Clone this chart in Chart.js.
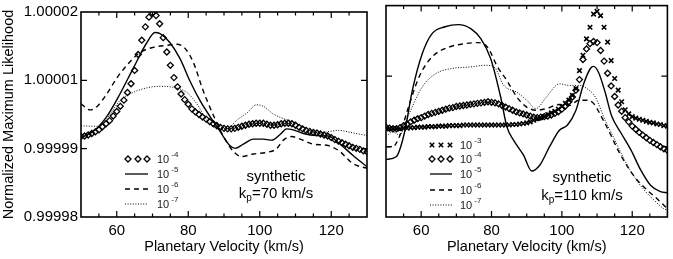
<!DOCTYPE html>
<html><head><meta charset="utf-8">
<title>Normalized Maximum Likelihood</title>
<script src="https://cdn.jsdelivr.net/npm/chart.js@4/dist/chart.umd.min.js"></script>
<style>
body{margin:0;background:#fff;width:673px;height:259px;position:relative;overflow:hidden}
canvas{position:absolute;top:0}
</style></head>
<body>
<canvas id="left" width="373" height="259" style="left:0"></canvas>
<canvas id="right" width="300" height="259" style="left:373px"></canvas>
<script>
// velocity grid of the symbol series (km/s)
var velocity = [50,51,52,53,54,55,56,57,58,59,60,61,62,63,64,65,66,67,68,69,70,
  71,72,73,74,75,76,77,78,79,80,81,82,83,84,85,86,87,88,89,90,
  91,92,93,94,95,96,97,98,99,100,101,102,103,104,105,106,107,108,109,110,
  111,112,113,114,115,116,117,118,119,120,121,122,123,124,125,126,127,128,129,130];

// all values below are offsets from 1, in units of 1e-5
// kp = 70 panel
var left1e4 = [-0.43,-0.42,-0.40,-0.37,-0.34,-0.30,-0.24,-0.18,-0.12,-0.03,0.06,
  0.16,0.28,0.43,0.60,0.86,1.17,1.45,1.71,1.90,1.98,
  1.93,1.77,1.50,1.22,0.96,0.72,0.54,0.40,0.29,0.20,
  0.11,0.05,0.00,-0.05,-0.09,-0.14,-0.18,-0.22,-0.25,-0.27,
  -0.28,-0.28,-0.27,-0.25,-0.23,-0.21,-0.19,-0.18,-0.17,-0.17,
  -0.17,-0.19,-0.21,-0.21,-0.20,-0.18,-0.17,-0.17,-0.18,-0.21,
  -0.25,-0.28,-0.31,-0.33,-0.35,-0.36,-0.38,-0.40,-0.42,-0.45,
  -0.49,-0.52,-0.55,-0.58,-0.61,-0.64,-0.66,-0.68,-0.71,-0.73];
var left1e5V = [50,53.4,57.2,60.9,64.6,68.4,70.7,72.1,74.9,77.7,80.5,83.3,86.1,88.9,91.7,93.1,95.4,98.2,101,103.3,105.7,107.5,109.4,112.2,115.9,119.2,122,126.1,130];
var left1e5 = [-0.45,-0.33,-0.04,0.40,0.90,1.40,1.60,1.58,1.40,1.09,0.65,0.27,-0.04,-0.33,-0.61,-0.66,-0.58,-0.48,-0.48,-0.50,-0.39,-0.28,-0.30,-0.37,-0.41,-0.42,-0.55,-0.80,-1.02];
var left1e6V = [50,52.5,54.4,57.2,60,62.8,66.5,70.2,74,76.8,79.1,81.4,84.2,87,89.8,92.6,94.9,98.2,101.9,104.7,106.6,108.9,111.3,115,118.7,122,126.1,130];
var left1e6 = [0.21,0.09,0.15,0.40,0.71,0.96,1.21,1.31,1.35,1.37,1.29,1.02,0.46,-0.01,-0.42,-0.72,-0.82,-0.77,-0.74,-0.67,-0.50,-0.43,-0.48,-0.58,-0.60,-0.70,-0.96,-1.05];
var left1e7V = [50,54.4,57.2,60.9,64.6,68.4,72.1,75.8,79.6,82.4,85.2,88,90.8,93.6,96.4,99.1,101,103.8,106.6,109.4,113.1,116.8,119.6,122,126.1,130];
var left1e7 = [-0.22,-0.23,-0.08,0.27,0.43,0.52,0.55,0.53,0.43,0.21,-0.11,-0.26,-0.28,-0.11,0.03,0.19,0.16,0.01,-0.08,-0.14,-0.28,-0.36,-0.33,-0.31,-0.36,-0.41];

// kp = 110 panel
var right1e3 = [-0.33,-0.33,-0.33,-0.33,-0.33,-0.32,-0.32,-0.31,-0.31,-0.30,-0.30,
  -0.30,-0.29,-0.29,-0.29,-0.28,-0.28,-0.28,-0.27,-0.27,-0.27,
  -0.27,-0.26,-0.26,-0.26,-0.26,-0.26,-0.26,-0.26,-0.26,-0.26,
  -0.26,-0.26,-0.26,-0.26,-0.26,-0.25,-0.25,-0.24,-0.23,-0.22,
  -0.20,-0.17,-0.14,-0.12,-0.10,-0.06,-0.03,0.00,0.04,0.09,
  0.15,0.21,0.30,0.43,0.77,1.06,1.37,1.59,1.84,1.89,
  1.81,1.59,1.31,0.96,0.62,0.40,0.18,0.03,-0.05,-0.10,
  -0.13,-0.15,-0.17,-0.19,-0.21,-0.22,-0.24,-0.25,-0.27,-0.28];
var right1e4 = [-0.30,-0.32,-0.33,-0.33,-0.31,-0.27,-0.24,-0.20,-0.17,-0.14,-0.12,
  -0.09,-0.06,-0.04,-0.02,0.00,0.02,0.04,0.06,0.07,0.09,
  0.10,0.11,0.12,0.13,0.14,0.15,0.16,0.17,0.18,0.17,
  0.16,0.14,0.11,0.08,0.05,0.02,-0.01,-0.03,-0.05,-0.07,
  -0.09,-0.11,-0.12,-0.11,-0.10,-0.09,-0.07,-0.04,-0.01,0.04,
  0.10,0.18,0.27,0.40,0.60,0.98,1.18,1.28,1.32,1.30,
  1.15,0.95,0.72,0.48,0.28,0.12,0.00,-0.12,-0.20,-0.28,
  -0.34,-0.40,-0.45,-0.50,-0.55,-0.59,-0.63,-0.67,-0.71,-0.74];
var right1e5V = [50,52.9,55.2,57.5,60.3,63.1,66.8,70.5,74.2,77,79.8,82.6,84.4,86.3,89.1,91.4,93.7,96.5,99.3,101.6,104,106.2,108.1,109,110.4,112.3,114.1,116.9,119.7,122.4,125.2,128,130];
var right1e5 = [-0.91,-0.86,-0.42,0.40,1.09,1.47,1.60,1.64,1.56,1.37,0.99,0.27,-0.30,-0.55,-0.83,-1.13,-1.02,-0.67,-0.36,-0.26,0.02,0.52,0.81,0.85,0.74,0.36,-0.08,-0.42,-0.74,-1.11,-1.40,-1.52,-1.54];
var right1e6V = [50,51.9,53.8,56.1,59.4,63.1,67.7,72.4,76.1,78.9,81.7,84.4,87.2,90,92.8,95.6,99.3,102.1,104.8,107.1,109,111.3,113.7,116,118.7,121.4,124.2,127,130];
var right1e6 = [-0.67,-0.67,-0.48,0.02,0.65,1.03,1.21,1.28,1.30,1.21,0.84,0.58,0.27,0.08,0.02,0.05,0.13,0.11,0.21,0.21,0.15,-0.11,-0.42,-0.74,-1.05,-1.30,-1.49,-1.65,-1.84];
var right1e7V = [50,51.9,53.8,56.6,60.3,64.1,68.7,74.2,77.9,80.7,83.5,87.2,90,92.6,95.6,99.3,102.1,104.8,107.1,109.5,112.3,115.1,117.8,120.6,123.4,126.2,128.9,130];
var right1e7 = [-0.48,-0.39,-0.45,-0.04,0.46,0.71,0.81,0.84,0.87,0.84,0.49,0.36,0.21,0.05,0.27,0.52,0.49,0.49,0.43,0.27,-0.17,-0.55,-0.92,-1.24,-1.49,-1.68,-1.84,-1.87];

var xTickValues = [60, 80, 100, 120];
var yTickLabels = ['0.99998', '0.99999', '1.00001', '1.00002'];
var legendLeft = ['-4', '-5', '-6', '-7'];
var legendRight = ['-3', '-4', '-5', '-6', '-7'];

var Y_MIN = 1 - 2e-5, Y_MAX = 1 + 2e-5;
var yTickValues = yTickLabels.map(function(_, i){ return Y_MIN + i * (Y_MAX - Y_MIN) / 3; });

Chart.defaults.font.family = '"Liberation Sans", Arial, Helvetica, sans-serif';
Chart.defaults.color = '#000';

function toL(d) { return 1 + d * 1e-5; }

function pts(v, d) { return v.map(function(x, i){ return {x: x, y: toL(d[i])}; }); }

function lineSet(v, d, kind) {
  var ds = { data: pts(v, d), showLine: true, pointRadius: 0, borderColor: '#000',
    cubicInterpolationMode: 'monotone', fill: false, borderWidth: 1.4 };
  if (kind == 'dash') { ds.borderDash = [5, 4]; }
  if (kind == 'dot') { ds.borderDash = [1, 1.6]; ds.borderWidth = 1; }
  return ds;
}

function markerSet(d, kind) {
  return { data: pts(velocity, d), showLine: false,
    pointStyle: kind == 'x' ? 'crossRot' : 'rectRot',
    pointRadius: kind == 'x' ? 3.2 : 3, pointBorderWidth: kind == 'x' ? 1.6 : 1.3,
    pointBorderColor: '#000', pointBackgroundColor: 'rgba(0,0,0,0)' };
}

function drawDiamond(ctx, x, y, r) {
  ctx.beginPath(); ctx.moveTo(x, y - r); ctx.lineTo(x + r, y); ctx.lineTo(x, y + r); ctx.lineTo(x - r, y); ctx.closePath(); ctx.stroke();
}
function drawCross(ctx, x, y, r) {
  ctx.beginPath(); ctx.moveTo(x - r, y - r); ctx.lineTo(x + r, y + r); ctx.moveTo(x - r, y + r); ctx.lineTo(x + r, y - r); ctx.stroke();
}

function framePlugin(cfg) {
  return {
    id: 'frame',
    afterDraw: function(chart) {
      var ctx = chart.ctx, a = chart.chartArea, xs = chart.scales.x, ys = chart.scales.y;
      ctx.save();
      ctx.strokeStyle = '#000';
      ctx.lineWidth = 1.6;
      ctx.strokeRect(a.left, a.top, a.right - a.left, a.bottom - a.top);
      // inward ticks
      ctx.lineWidth = 1.2;
      ctx.beginPath();
      for (var v = 55; v < 130; v += 5) {
        var px = xs.getPixelForValue(v);
        var len = xTickValues.indexOf(v) >= 0 ? 6 : 3.5;
        ctx.moveTo(px, a.bottom); ctx.lineTo(px, a.bottom - len);
        ctx.moveTo(px, a.top); ctx.lineTo(px, a.top + len);
      }
      yTickValues.slice(1, 3).forEach(function(t){
        var py = ys.getPixelForValue(t);
        ctx.moveTo(a.left, py); ctx.lineTo(a.left + 6, py);
        ctx.moveTo(a.right, py); ctx.lineTo(a.right - 6, py);
      });
      ctx.stroke();

      // legend
      var L = cfg.legend;
      L.kinds.forEach(function(kind, i){
        var y = L.rows[i];
        ctx.setLineDash([]);
        if (kind == 'x' || kind == 'diamond') {
          ctx.lineWidth = kind == 'x' ? 1.5 : 1.3;
          L.marks.forEach(function(mx){
            if (kind == 'x') drawCross(ctx, mx, y, 2.2); else drawDiamond(ctx, mx, y, 3);
          });
        } else {
          ctx.lineWidth = kind == 'dot' ? 1 : 1.3;
          if (kind == 'dash') ctx.setLineDash([5, 4]);
          if (kind == 'dot') ctx.setLineDash([1, 1.6]);
          ctx.beginPath(); ctx.moveTo(L.x0, y); ctx.lineTo(L.x1, y); ctx.stroke();
        }
        ctx.setLineDash([]);
        ctx.fillStyle = '#222';
        ctx.textBaseline = 'middle';
        ctx.textAlign = 'left';
        ctx.font = '11px "Liberation Sans", Arial, sans-serif';
        ctx.fillText('10', L.tx, y + 1);
        var w = ctx.measureText('10').width;
        ctx.font = '8px "Liberation Sans", Arial, sans-serif';
        ctx.fillText(L.exps[i], L.tx + w + 2, y - 4);
      });

      // annotation
      var N = cfg.note;
      ctx.fillStyle = '#000';
      ctx.textBaseline = 'middle';
      ctx.textAlign = 'center';
      ctx.font = '15px "Liberation Sans", Arial, sans-serif';
      ctx.fillText('synthetic', N.cx, N.y1);
      ctx.textAlign = 'left';
      var big = '15px "Liberation Sans", Arial, sans-serif', small = '10px "Liberation Sans", Arial, sans-serif';
      var rest = '=' + N.kp + ' km/s';
      ctx.font = big; var wk = ctx.measureText('k').width, wr = ctx.measureText(rest).width;
      ctx.font = small; var wp = ctx.measureText('p').width;
      var sx = N.cx - (wk + wp + wr) / 2;
      ctx.font = big; ctx.fillText('k', sx, N.y2);
      ctx.font = small; ctx.fillText('p', sx + wk, N.y2 + 4);
      ctx.font = big; ctx.fillText(rest, sx + wk + wp, N.y2);
      ctx.restore();
    }
  };
}

function xScale() {
  return {
    type: 'linear', min: 50, max: 130,
    grid: { display: false, drawTicks: false }, border: { display: false },
    afterBuildTicks: function(s){ s.ticks = xTickValues.map(function(v){ return {value: v}; }); },
    ticks: { autoSkip: false, maxRotation: 0, padding: 5, color: '#000', font: { size: 15 } },
    title: { display: true, text: 'Planetary Velocity (km/s)', color: '#000', font: { size: 14.5 }, padding: { top: 0, bottom: 3 } },
    afterFit: function(s){ s.height = 42; }
  };
}

new Chart(document.getElementById('left'), {
  type: 'scatter',
  data: { datasets: [
    markerSet(left1e4, 'diamond'),
    lineSet(left1e5V, left1e5, 'solid'),
    lineSet(left1e6V, left1e6, 'dash'),
    lineSet(left1e7V, left1e7, 'dot')
  ] },
  options: {
    responsive: false, animation: false,
    layout: { padding: { top: 5, right: 6, left: 0, bottom: 0 } },
    plugins: { legend: { display: false }, tooltip: { enabled: false } },
    scales: {
      x: xScale(),
      y: {
        min: Y_MIN, max: Y_MAX,
        grid: { display: false, drawTicks: false }, border: { display: false },
        afterBuildTicks: function(s){ s.ticks = yTickValues.map(function(v){ return {value: v}; }); },
        ticks: { autoSkip: false, padding: 3, color: '#000', font: { size: 15 },
          callback: function(v, i){ return yTickLabels[i]; } },
        title: { display: true, text: 'Normalized Maximum Likelihood', color: '#000', font: { size: 14.5 }, padding: { top: 0, bottom: 0 } },
        afterFit: function(s){ s.width = 81; }
      }
    }
  },
  plugins: [framePlugin({
    legend: { kinds: ['diamond', 'solid', 'dash', 'dot'], exps: legendLeft, rows: [159, 174, 189, 204],
      marks: [128, 138, 147], x0: 125, x1: 148, tx: 157 },
    note: { cx: 276, y1: 177, y2: 194, kp: '70' }
  })]
});

new Chart(document.getElementById('right'), {
  type: 'scatter',
  data: { datasets: [
    markerSet(right1e3, 'x'),
    markerSet(right1e4, 'diamond'),
    lineSet(right1e5V, right1e5, 'solid'),
    lineSet(right1e6V, right1e6, 'dash'),
    lineSet(right1e7V, right1e7, 'dot')
  ] },
  options: {
    responsive: false, animation: false,
    layout: { padding: { top: 5, right: 1, left: 13, bottom: 0 } },
    plugins: { legend: { display: false }, tooltip: { enabled: false } },
    scales: {
      x: xScale(),
      y: { display: false, min: Y_MIN, max: Y_MAX }
    }
  },
  plugins: [framePlugin({
    legend: { kinds: ['x', 'diamond', 'solid', 'dash', 'dot'], exps: legendRight, rows: [145, 159, 174, 190, 205],
      marks: [59, 68, 77], x0: 57, x1: 79, tx: 87 },
    note: { cx: 209, y1: 178, y2: 196, kp: '110' }
  })]
});
</script>
</body></html>
